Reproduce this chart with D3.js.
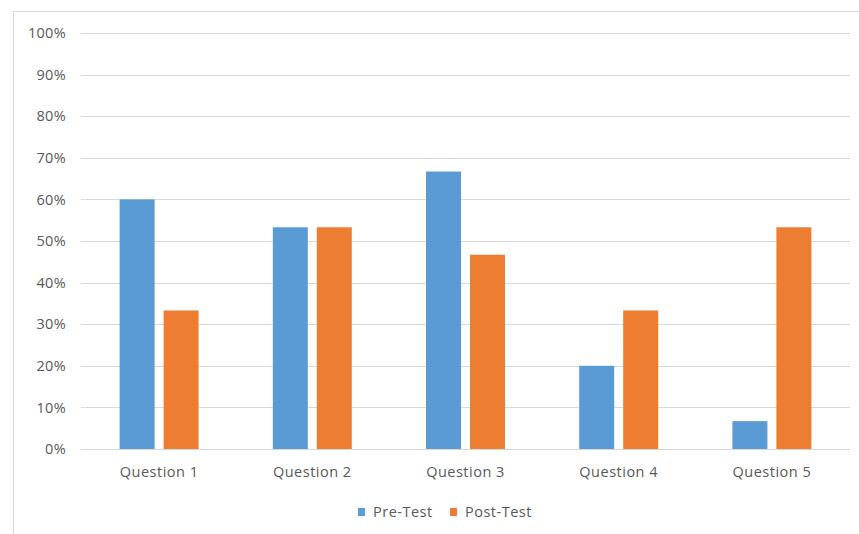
<!DOCTYPE html>
<html>
<head>
<meta charset="utf-8">
<script src="https://cdn.jsdelivr.net/npm/d3@7"></script>
<style>
  html, body { margin: 0; padding: 0; background: #fff; }
  svg text { font-family: "Open Sans", "Noto Sans", sans-serif; fill: #595959; }
</style>
</head>
<body>
<svg id="chart" width="859" height="534"></svg>
<script>
// Share of correct answers per question, before and after
const questions = ["Question 1", "Question 2", "Question 3", "Question 4", "Question 5"];
const preTest  = [0.600, 0.533, 0.667, 0.200, 0.067];
const postTest = [0.333, 0.533, 0.467, 0.333, 0.533];
const seriesNames = ["Pre-Test", "Post-Test"];
const seriesColors = ["#5B9BD5", "#ED7D31"];
const yTicks = [0, 0.1, 0.2, 0.3, 0.4, 0.5, 0.6, 0.7, 0.8, 0.9, 1.0];

const svg = d3.select("#chart");
const font = "'Open Sans', 'Noto Sans', sans-serif";

// chart frame
svg.append("rect")
  .attr("x", 13.5).attr("y", 11.5)
  .attr("width", 900).attr("height", 600)
  .attr("fill", "none").attr("stroke", "#d9d9d9").attr("stroke-width", 1);

const plot = { left: 82.5, right: 848.5, top: 33, bottom: 449 };

const x = d3.scaleBand().domain(questions).range([plot.left, plot.right]);
const y = d3.scaleLinear().domain([0, 1]).range([plot.bottom, plot.top]);

// gridlines
svg.append("g").selectAll("line").data(yTicks).join("line")
  .attr("x1", 81).attr("x2", 850)
  .attr("y1", d => Math.round(y(d)) + 0.5).attr("y2", d => Math.round(y(d)) + 0.5)
  .attr("stroke", "#d9d9d9").attr("stroke-width", 1);

// y tick labels
const yAxis = d3.axisLeft(y).tickValues(yTicks).tickFormat(d3.format(".0%")).tickSize(0).tickPadding(0);
const yg = svg.append("g").attr("transform", `translate(66,0)`).call(yAxis);
yg.select(".domain").remove();
yg.selectAll("text").attr("font-size", 14.5).attr("fill", "#595959")
  .attr("letter-spacing", 0.3).style("font-family", font);

// bars
const inner = d3.scaleBand().domain(seriesNames).range([0, x.bandwidth()]).paddingInner(0.2045).paddingOuter(0.844);
const data = questions.map((q, i) => ({ q, vals: [preTest[i], postTest[i]] }));

const groups = svg.append("g").selectAll("g").data(data).join("g")
  .attr("transform", d => `translate(${x(d.q)},0)`);
groups.selectAll("rect").data(d => d.vals.map((v, j) => ({ v, name: seriesNames[j], color: seriesColors[j] })))
  .join("rect")
  .attr("x", d => inner(d.name))
  .attr("width", inner.bandwidth())
  .attr("y", d => y(d.v))
  .attr("height", d => y(0) - y(d.v))
  .attr("fill", d => d.color);

// x axis labels
const xAxis = d3.axisBottom(x).tickSize(0).tickPadding(0);
const xg = svg.append("g").attr("transform", `translate(0,476.5)`).call(xAxis);
xg.select(".domain").remove();
xg.selectAll("text").attr("font-size", 14.5).attr("fill", "#595959").attr("dy", "0")
  .attr("letter-spacing", 0.5).style("font-family", font);

// legend
const legendItems = [
  { name: seriesNames[0], color: seriesColors[0], x: 358 },
  { name: seriesNames[1], color: seriesColors[1], x: 450 }
];
const lg = svg.append("g").selectAll("g").data(legendItems).join("g")
  .attr("transform", d => `translate(${d.x},0)`);
lg.append("rect").attr("x", 0).attr("y", 508).attr("width", 7).attr("height", 8).attr("fill", d => d.color);
lg.append("text").attr("x", 15).attr("y", 516.5).attr("font-size", 14.5)
  .attr("letter-spacing", 0.5).text(d => d.name);
</script>
</body>
</html>
